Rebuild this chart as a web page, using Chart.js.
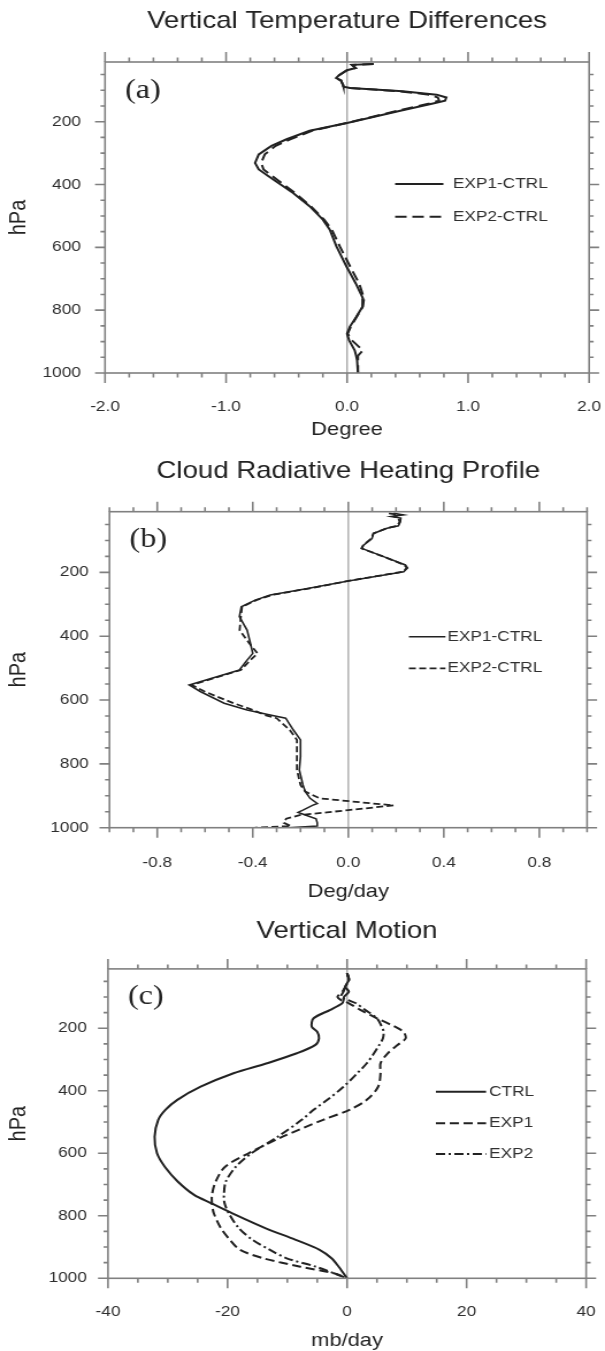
<!DOCTYPE html>
<html>
<head>
<meta charset="utf-8">
<title>Vertical profiles</title>
<script src="https://cdn.jsdelivr.net/npm/chart.js@4.4.1/dist/chart.umd.min.js"></script>
<style>
  html, body { margin: 0; padding: 0; background: #ffffff; }
  canvas { display: block; }
</style>
</head>
<body>
<!-- each canvas is drawn 526 px wide and shown 605 px wide -->
<canvas id="panelA" width="526" height="445" style="width:605px;height:445px"></canvas>
<canvas id="panelB" width="526" height="463" style="width:605px;height:463px"></canvas>
<canvas id="panelC" width="526" height="443" style="width:605px;height:443px"></canvas>
<script>
// ---------- (a) temperature differences, degree ----------
const levelsA = [16, 19, 29, 36, 53, 61, 69, 82, 89, 93,
  103, 114, 123, 133, 142, 165, 204, 229, 256, 277,
  304, 331, 352, 384, 427, 469, 512, 544, 597, 661,
  715, 763, 789, 821, 853, 875, 896, 928, 945, 960, 1000];
const exp1A = [0.22, 0.04, 0.07, 0.00, -0.07, -0.09, -0.05, -0.035, -0.03, 0.025,
  0.46, 0.74, 0.82, 0.81, 0.71, 0.44, 0.00, -0.31, -0.50, -0.625,
  -0.73, -0.76, -0.73, -0.61, -0.446, -0.31, -0.20, -0.143, -0.088, -0.005,
  0.072, 0.132, 0.127, 0.077, 0.022, 0.00, 0.017, 0.063, 0.075, 0.083, 0.09];
const exp2A = [0.22, 0.04, 0.07, 0.00, -0.07, -0.09, -0.05, -0.035, -0.03, 0.025,
  0.43, 0.68, 0.75, 0.76, 0.68, 0.42, 0.00, -0.29, -0.47, -0.59,
  -0.68, -0.71, -0.69, -0.58, -0.43, -0.30, -0.19, -0.125, -0.06, 0.025,
  0.10, 0.14, 0.13, 0.08, 0.03, 0.005, 0.04, 0.13, 0.09, 0.09, 0.09];
const xTicksA = [-2, -1, 0, 1, 2];
const xTickLabelsA = ['-2.0', '-1.0', '0.0', '1.0', '2.0'];

// ---------- (b) cloud radiative heating, deg/day ----------
const levelsB = [15, 20, 25, 30, 42, 54, 62, 78, 94, 115,
  125, 150, 177, 186, 198, 227, 250, 271, 287, 308,
  339, 381, 422, 454, 475, 506, 553, 574, 610, 631,
  647, 657, 694, 725, 778, 819, 866, 887, 908, 924,
  930, 945, 952, 960, 972, 985, 995, 1000];
const exp1B = [0.19, 0.23, 0.18, 0.22, 0.218, 0.21, 0.162, 0.106, 0.099, 0.064,
  0.057, 0.145, 0.239, 0.248, 0.232, 0.0, -0.165, -0.327, -0.39, -0.448,
  -0.456, -0.424, -0.41, -0.40, -0.424, -0.456, -0.666, -0.618, -0.52, -0.424,
  -0.327, -0.262, -0.23, -0.20, -0.20, -0.205, -0.19, -0.18, -0.16, -0.13,
  -0.15, -0.19, -0.21, -0.18, -0.135, -0.13, -0.13, -0.25];
const exp2B = [0.17, 0.21, 0.19, 0.21, 0.215, 0.205, 0.16, 0.105, 0.097, 0.062,
  0.055, 0.145, 0.235, 0.245, 0.228, 0.0, -0.16, -0.32, -0.385, -0.445,
  -0.45, -0.455, -0.415, -0.38, -0.41, -0.45, -0.655, -0.60, -0.48, -0.40,
  -0.35, -0.30, -0.245, -0.215, -0.215, -0.215, -0.20, -0.18, -0.12, 0.10,
  0.19, 0.0, -0.09, -0.20, -0.26, -0.27, -0.24, -0.39];
const xTicksB = [-0.8, -0.4, 0, 0.4, 0.8];
const xTickLabelsB = ['-0.8', '-0.4', '0.0', '0.4', '0.8'];

// ---------- (c) vertical motion, mb/day ----------
const levelsC = [24, 45, 67, 83, 99, 110, 120, 141, 168, 195,
  211, 232, 253, 280, 312, 344, 387, 429, 461, 493,
  547, 600, 643, 691, 733, 760, 792, 840, 877, 909,
  936, 963, 984, 1000];
const ctrlC = [0, 0.3, -0.3, 0.3, -0.5, -0.6, -0.8, -2.8, -5.6, -5.9,
  -5.0, -4.7, -5.3, -8.4, -13.4, -19.0, -24.5, -28.4, -30.4, -31.6,
  -32.2, -31.8, -30.5, -28.3, -25.6, -22.7, -19.2, -13.6, -8.6, -4.6,
  -2.6, -1.4, -0.6, 0];
const exp1C = [0, 0.3, -0.3, -0.8, -1.6, -1.0, 0.3, 2.2, 5.0, 8.0,
  9.4, 9.8, 8.5, 6.8, 5.6, 5.6, 5.2, 3.3, 0.4, -4.0,
  -10.8, -16.5, -20.4, -22.0, -22.6, -22.6, -22.3, -21.1, -19.6, -17.9,
  -14.0, -7.8, -2.2, 0];
const exp2C = [0, 0.3, -0.3, -0.6, -1.0, 0.2, 1.5, 3.0, 5.0, 5.8,
  6.1, 6.0, 5.4, 4.5, 3.3, 1.7, -0.6, -3.3, -5.6, -7.6,
  -11.6, -16.0, -18.6, -20.3, -20.6, -20.5, -19.8, -18.1, -15.8, -12.9,
  -10.1, -5.2, -2.2, 0];
const xTicksC = [-40, -20, 0, 20, 40];
const xTickLabelsC = ['-40', '-20', '0', '20', '40'];

// ---------- shared pressure axis ----------
const yTicks = [200, 400, 600, 800, 1000];
const yTickLabels = ['200', '400', '600', '800', '1000'];

// horizontal display stretch of the canvases
const S = 605 / 526;
const SANS = '"Liberation Sans", Arial, Helvetica, sans-serif';
const SERIF = '"Liberation Serif", "Times New Roman", serif';
const INK = '#222222';

const panels = [
  {
    id: 'panelA', height: 445,
    area: { left: 91.3, right: 512.2, top: 62, bottom: 373 },
    title: 'Vertical Temperature Differences', titleY: 21.7,
    tag: '(a)', tagY: 98.4,
    xLabel: 'Degree', xLabelPad: 5.5, xTickGap: 24.7, yTickGap: 20.9,
    xMin: -2, xMax: 2, xMinorStep: 0.2, xTicks: xTicksA, xTickLabels: xTickLabelsA,
    levels: levelsA, tension: 0,
    series: [
      { label: 'EXP1-CTRL', values: exp1A, dash: [], width: 2 },
      { label: 'EXP2-CTRL', values: exp2A, dash: [10, 5], width: 2 }
    ],
    legend: { x0: 343.5, x1: 385.5, textX: 393.7, ys: [184, 216.7] }
  },
  {
    id: 'panelB', height: 463,
    area: { left: 95.2, right: 510.4, top: 66.7, bottom: 382.7 },
    title: 'Cloud Radiative Heating Profile', titleY: 26.7,
    tag: '(b)', tagY: 101.6,
    xLabel: 'Deg/day', xLabelPad: 6.8, xTickGap: 26.6, yTickGap: 18.1,
    xMin: -1, xMax: 1, xMinorStep: 0.1, xTicks: xTicksB, xTickLabels: xTickLabelsB,
    levels: levelsB, tension: 0,
    series: [
      { label: 'EXP1-CTRL', values: exp1B, dash: [], width: 1.6 },
      { label: 'EXP2-CTRL', values: exp2B, dash: [6, 3], width: 1.8 }
    ],
    legend: { x0: 355.5, x1: 387.3, textX: 389, ys: [191.7, 223.3] }
  },
  {
    id: 'panelC', height: 443,
    area: { left: 93.9, right: 509.6, top: 60.9, bottom: 370.3 },
    title: 'Vertical Motion', titleY: 23.7,
    tag: '(c)', tagY: 96,
    xLabel: 'mb/day', xLabelPad: 0.8, xTickGap: 24.4, yTickGap: 18.4,
    xMin: -40, xMax: 40, xMinorStep: 5, xTicks: xTicksC, xTickLabels: xTickLabelsC,
    levels: levelsC, tension: 0.3,
    series: [
      { label: 'CTRL', values: ctrlC, dash: [], width: 2 },
      { label: 'EXP1', values: exp1C, dash: [8, 4], width: 2 },
      { label: 'EXP2', values: exp2C, dash: [8, 3, 2, 3], width: 2 }
    ],
    legend: { x0: 379, x1: 422.6, textX: 425.2, ys: [183.7, 215.3, 246] }
  }
];

function stepValues(min, max, step) {
  const out = [];
  const n = Math.round((max - min) / step);
  for (let k = 0; k <= n; k++) out.push(+(min + k * step).toFixed(6));
  return out;
}

// frame, tick marks on all four sides, zero line, title, panel tag and key
function makeDecor(p) {
  return {
    id: 'profileDecor',
    beforeDatasetsDraw(chart) {
      const { ctx, chartArea: a, scales: { x } } = chart;
      const x0 = x.getPixelForValue(0);
      ctx.save();
      ctx.strokeStyle = '#ababab';
      ctx.lineWidth = 1.4;
      ctx.beginPath();
      ctx.moveTo(x0, a.top);
      ctx.lineTo(x0, a.bottom);
      ctx.stroke();
      ctx.restore();
    },
    afterDraw(chart) {
      const { ctx, chartArea: a, scales: { x, y } } = chart;
      ctx.save();
      ctx.strokeStyle = '#808080';
      ctx.lineWidth = 1.6;
      ctx.strokeRect(a.left, a.top, a.right - a.left, a.bottom - a.top);

      ctx.beginPath();
      stepValues(p.xMin, p.xMax, p.xMinorStep).forEach(v => {
        const major = p.xTicks.some(t => Math.abs(t - v) < 1e-9);
        const len = major ? 10 : 4.5;
        const px = x.getPixelForValue(v);
        ctx.moveTo(px, a.top); ctx.lineTo(px, a.top - len);
        ctx.moveTo(px, a.bottom); ctx.lineTo(px, a.bottom + len);
      });
      stepValues(50, 1000, 50).forEach(v => {
        const major = yTicks.includes(v);
        const len = (major ? 10 : 4.5) / S;
        const py = y.getPixelForValue(v);
        ctx.moveTo(a.left, py); ctx.lineTo(a.left - len, py);
        ctx.moveTo(a.right, py); ctx.lineTo(a.right + len, py);
      });
      ctx.stroke();

      // panel title
      ctx.fillStyle = INK;
      ctx.font = '24px ' + SANS;
      ctx.textAlign = 'center';
      ctx.textBaseline = 'middle';
      ctx.fillText(p.title, (a.left + a.right) / 2, p.titleY);

      // panel tag
      ctx.font = '28px ' + SERIF;
      ctx.textAlign = 'left';
      ctx.textBaseline = 'alphabetic';
      ctx.fillText(p.tag, a.left + 17.4, p.tagY);

      // key
      chart.data.datasets.forEach((ds, i) => {
        const ly = p.legend.ys[i];
        ctx.strokeStyle = ds.borderColor;
        ctx.lineWidth = ds.borderWidth;
        ctx.setLineDash(ds.borderDash || []);
        ctx.beginPath();
        ctx.moveTo(p.legend.x0, ly);
        ctx.lineTo(p.legend.x1, ly);
        ctx.stroke();
        ctx.setLineDash([]);
        ctx.fillStyle = '#303030';
        ctx.font = '15px ' + SANS;
        ctx.textAlign = 'left';
        ctx.textBaseline = 'middle';
        ctx.fillText(ds.label, p.legend.textX, ly);
      });
      ctx.restore();
    }
  };
}

panels.forEach(p => {
  const canvas = document.getElementById(p.id);
  const W = canvas.width;
  new Chart(canvas, {
    type: 'line',
    data: {
      datasets: p.series.map(s => ({
        label: s.label,
        data: p.levels.map((lev, i) => ({ x: s.values[i], y: lev })),
        borderColor: INK,
        borderWidth: s.width,
        borderDash: s.dash,
        pointRadius: 0,
        pointHoverRadius: 0,
        tension: p.tension,
        fill: false
      }))
    },
    options: {
      responsive: false,
      animation: false,
      devicePixelRatio: 1,
      events: [],
      layout: { padding: { left: 0, top: p.area.top, right: W - p.area.right, bottom: 0 } },
      plugins: {
        legend: { display: false },
        title: { display: false },
        tooltip: { enabled: false }
      },
      scales: {
        x: {
          type: 'linear',
          position: 'bottom',
          min: p.xMin,
          max: p.xMax,
          // the hidden tick length only sets the gap between frame and labels
          grid: { display: false, drawTicks: true, tickLength: p.xTickGap },
          border: { display: false },
          afterBuildTicks: sc => { sc.ticks = p.xTicks.map(v => ({ value: v })); },
          afterFit: sc => { sc.height = p.height - p.area.bottom; },
          ticks: {
            autoSkip: false, maxRotation: 0, minRotation: 0,
            padding: 0,
            color: '#2e2e2e',
            font: { family: SANS, size: 15 },
            callback: (v, i) => p.xTickLabels[i]
          },
          title: {
            display: true, text: p.xLabel, color: INK,
            font: { family: SANS, size: 19, lineHeight: 1 },
            padding: { top: 0, bottom: p.xLabelPad }
          }
        },
        y: {
          type: 'linear',
          position: 'left',
          reverse: true,
          min: 10,
          max: 1000,
          grid: { display: false, drawTicks: true, tickLength: p.yTickGap },
          border: { display: false },
          afterBuildTicks: sc => { sc.ticks = yTicks.map(v => ({ value: v })); },
          afterFit: sc => { sc.width = p.area.left; },
          ticks: {
            autoSkip: false,
            padding: 0,
            color: '#2e2e2e',
            font: { family: SANS, size: 15 },
            callback: (v, i) => yTickLabels[i]
          },
          title: {
            display: true, text: 'hPa', color: INK,
            font: { family: SANS, size: 20, lineHeight: 1 },
            padding: { top: 6.5, bottom: 0 }
          }
        }
      }
    },
    plugins: [makeDecor(p)]
  });
});
</script>
</body>
</html>
